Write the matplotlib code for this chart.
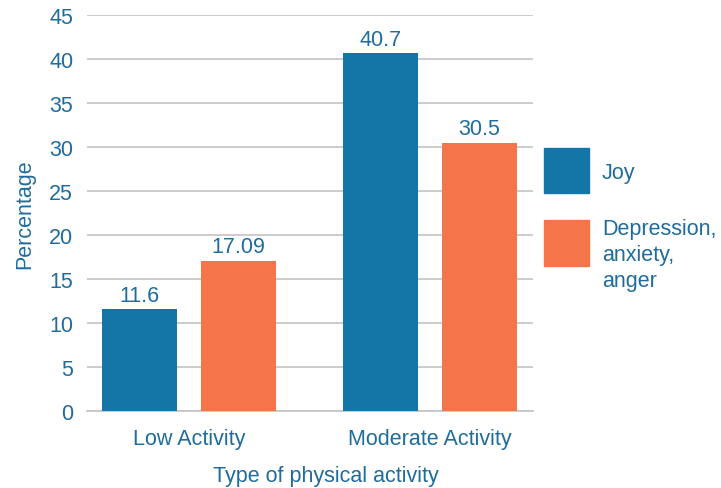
import matplotlib.pyplot as plt
from matplotlib.patches import Rectangle
import numpy as np

plt.rcParams['font.family'] = ['Liberation Sans', 'DejaVu Sans']

categories = ['Low Activity', 'Moderate Activity']
joy = [11.6, 40.7]
depression = [17.09, 30.5]
series_names = ['Joy', 'Depression,\nanxiety,\nanger']
value_labels_joy = ['11.6', '40.7']
value_labels_dep = ['17.09', '30.5']

text_color = '#1f6c9e'
joy_color = '#1476a7'
dep_color = '#f47549'
grid_color = '#c4c4c4'
fs = 15.5

fig = plt.figure(figsize=(7.21, 4.89), dpi=100)
ax = fig.add_axes([0.1207, 0.157, 0.618, 0.810])

x = np.arange(len(categories))
w = 0.311
off = 0.205
b1 = ax.bar(x - off, joy, w, color=joy_color, zorder=3)
b2 = ax.bar(x + off, depression, w, color=dep_color, zorder=3)

for bars, labels in ((b1, value_labels_joy), (b2, value_labels_dep)):
    for bar, lab in zip(bars, labels):
        ax.annotate(lab, (bar.get_x() + bar.get_width() / 2, bar.get_height()),
                    xytext=(0, 6), textcoords='offset points',
                    ha='center', va='baseline', fontsize=fs, color=text_color)

ax.set_xlim(-0.423, 1.427)
ax.set_ylim(0, 45)
ax.set_yticks(range(0, 46, 5))
ax.set_xticks(x)
ax.set_xticklabels(categories)
ax.tick_params(axis='y', length=0, pad=10, labelsize=fs, labelcolor=text_color)
ax.tick_params(axis='x', length=0, pad=12, labelsize=fs, labelcolor=text_color)
ax.grid(axis='y', color=grid_color, linewidth=1.2, zorder=0)
for s in ['top', 'right', 'left']:
    ax.spines[s].set_visible(False)
ax.spines['bottom'].set_color(grid_color)
ax.spines['bottom'].set_linewidth(1.2)

ax.set_ylabel('Percentage', fontsize=fs, color=text_color, labelpad=10)
ax.set_xlabel('Type of physical activity', fontsize=fs, color=text_color)
ax.xaxis.set_label_coords(0.536, -0.135)

# legend drawn by hand on the right side
W, H = 721, 489
fig.add_artist(Rectangle((544 / W, 1 - 194 / H), 45 / W, 45 / H,
                         transform=fig.transFigure, color=joy_color))
fig.text(602 / W, 1 - 179 / H, series_names[0], fontsize=fs, color=text_color,
         va='baseline', ha='left')
fig.add_artist(Rectangle((544 / W, 1 - 267 / H), 45 / W, 46 / H,
                         transform=fig.transFigure, color=dep_color))
fig.text(602 / W, 1 - 287 / H, series_names[1], fontsize=fs, color=text_color,
         va='baseline', ha='left', linespacing=1.3)

plt.savefig('out.png', dpi=100)
